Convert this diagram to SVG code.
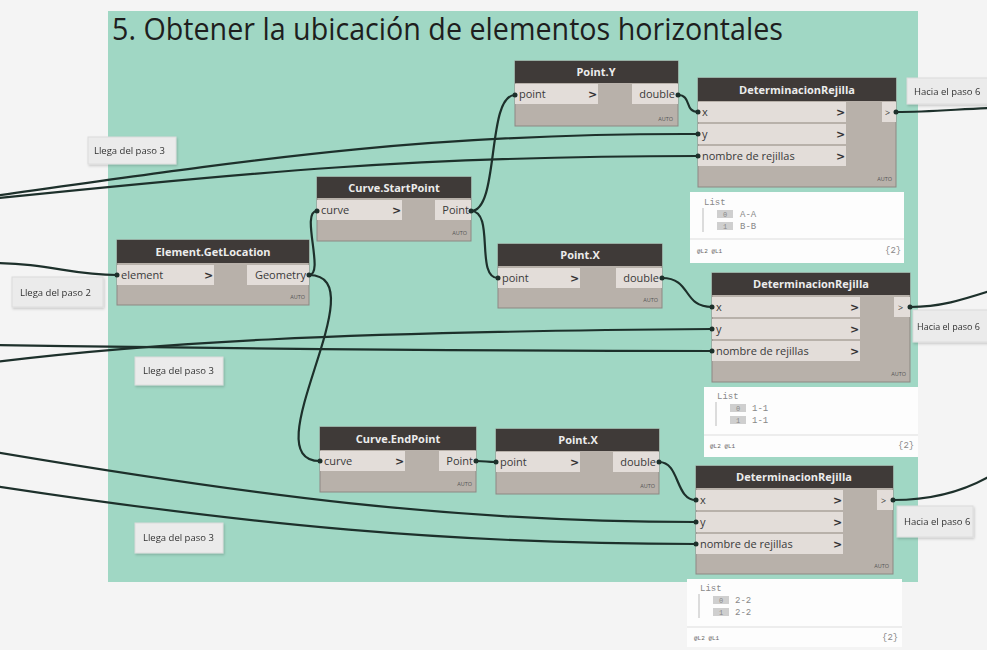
<svg xmlns="http://www.w3.org/2000/svg" width="987" height="650" viewBox="0 0 987 650">
<defs>
<style>
.bg{fill:#f4f4f4}
.grp{fill:#a0d7c4}
.title{font-family:"Open Sans","Noto Sans",sans-serif;font-size:31px;fill:#1e1e1e}
.body{fill:#b8b1aa;stroke:#8d8883;stroke-width:1}
.hdr{fill:#3f3a38}
.htxt{font-family:"Open Sans","Noto Sans",sans-serif;font-size:11px;font-weight:bold;fill:#ececec;text-anchor:middle}
.row{fill:#e3ddd9}
.ptxt{font-family:"Open Sans","Noto Sans",sans-serif;font-size:11px;fill:#3a3a3a}
.pend{text-anchor:end}
.chev{font-family:"DejaVu Sans",sans-serif;font-size:11px;font-weight:bold;fill:#333}
.auto{font-family:"Open Sans",sans-serif;font-size:5.5px;fill:#555;text-anchor:end}
.note{fill:#ebebeb;stroke:#dcdcdc;stroke-width:1}
.ntxt{font-family:"Open Sans","Noto Sans",sans-serif;font-size:9.5px;fill:#333}
.watch{fill:#fdfdfd}
.wsep{stroke:#dddddd;stroke-width:1}
.wtxt{font-family:"Liberation Mono","DejaVu Sans Mono",monospace;font-size:9px;fill:#888}
.itxt{font-family:"Liberation Mono",monospace;font-size:7px;fill:#888;text-anchor:middle}
.wfoot{font-family:"Liberation Mono",monospace;font-size:6px;fill:#666}
.idx{fill:#cfcfcf}
.wire{fill:none;stroke:#1d302b;stroke-width:2.2}
.dot{fill:#1d302b}
</style>
<filter id="sh" x="-10%" y="-10%" width="130%" height="140%">
<feDropShadow dx="1" dy="1.5" stdDeviation="1.2" flood-color="#000" flood-opacity="0.18"/>
</filter>
</defs>
<rect class="bg" x="0" y="0" width="987" height="650"/>
<rect class="grp" x="108" y="11" width="810" height="571"/>
<text class="title" x="112" y="40" textLength="671" lengthAdjust="spacingAndGlyphs">5. Obtener la ubicación de elementos horizontales</text>

<g id="notes">
<g id="note-llega3a" filter="url(#sh)"><rect class="note" x="88" y="137" width="88" height="27"/><text class="ntxt" x="94" y="154">Llega del paso 3</text></g>
<g id="note-llega2" filter="url(#sh)"><rect class="note" x="12" y="277" width="91" height="30"/><text class="ntxt" x="20" y="296">Llega del paso 2</text></g>
<g id="note-llega3b" filter="url(#sh)"><rect class="note" x="135" y="357" width="88" height="28"/><text class="ntxt" x="143" y="374">Llega del paso 3</text></g>
<g id="note-llega3c" filter="url(#sh)"><rect class="note" x="135" y="523" width="88" height="30"/><text class="ntxt" x="143" y="541">Llega del paso 3</text></g>
<g id="note-hacia6a" filter="url(#sh)"><rect class="note" x="907" y="78" width="85" height="26"/><text class="ntxt" x="914" y="95">Hacia el paso 6</text></g>
<g id="note-hacia6b" filter="url(#sh)"><rect class="note" x="913" y="310" width="80" height="32"/><text class="ntxt" x="917" y="330" style="font-size:9px">Hacia el paso 6</text></g>
<g id="note-hacia6c" filter="url(#sh)"><rect class="note" x="897" y="506" width="76" height="31"/><text class="ntxt" x="904" y="525">Hacia el paso 6</text></g>
</g>

<g id="connectors">
<path class="wire" d="M-20,198 C250,160 420,133 698,134"/>
<path class="wire" d="M-20,200 C250,172 420,156 698,156"/>
<path class="wire" d="M-10,263 C50,263 70,275 117,275"/>
<path class="wire" d="M-5,362 C150,343 330,332 712,329"/>
<path class="wire" d="M-5,345 C200,348 420,351 712,351"/>
<path class="wire" d="M-5,452 C250,495 450,522 696,522"/>
<path class="wire" d="M-5,486 C250,525 450,544 696,544"/>
<path class="wire" d="M309,275 C325,275 300,211 317,211"/>
<path class="wire" d="M309,275 C380,275 250,461 320,461"/>
<path class="wire" d="M471,211 C500,211 486,95 515,95"/>
<path class="wire" d="M471,211 C495,211 475,278 498,278"/>
<path class="wire" d="M678,95 C692,95 684,112 698,112"/>
<path class="wire" d="M662,278 C692,278 682,307 712,307"/>
<path class="wire" d="M476,461 C486,461 486,462 496,462"/>
<path class="wire" d="M659,462 C680,462 675,500 696,500"/>
<path class="wire" d="M896,112 C930,112 960,109 990,108"/>
<path class="wire" d="M910,307 C940,307 962,300 990,291"/>
<path class="wire" d="M893,500 C930,500 962,492 990,476"/>
</g>

<g id="node-pointY">
<rect class="body" x="515" y="61" width="163" height="65"/>
<rect class="hdr" x="515" y="61" width="163" height="22"/>
<text class="htxt" x="596" y="76">Point.Y</text>
<rect class="row" x="515" y="84" width="83" height="20"/>
<text class="ptxt" x="519" y="98">point</text>
<text class="chev" x="588" y="98">&gt;</text>
<rect class="row" x="632" y="84" width="46" height="20"/>
<text class="ptxt pend" x="675" y="98">double</text>
<text class="auto" x="673" y="121">AUTO</text>
<circle class="dot" cx="515" cy="95" r="2.5"/><circle class="dot" cx="678" cy="95" r="2.5"/>
</g>

<g id="node-determ1">
<rect class="body" x="698" y="78" width="198" height="109"/>
<rect class="hdr" x="698" y="78" width="198" height="23"/>
<text class="htxt" x="797" y="94">DeterminacionRejilla</text>
<rect class="row" x="698" y="102" width="148" height="20"/>
<rect class="row" x="698" y="124" width="148" height="20"/>
<rect class="row" x="698" y="146" width="148" height="20"/>
<text class="ptxt" x="702" y="116">x</text>
<text class="ptxt" x="702" y="138">y</text>
<text class="ptxt" x="702" y="160">nombre de rejillas</text>
<text class="chev" x="836" y="116">&gt;</text><text class="chev" x="836" y="138">&gt;</text><text class="chev" x="836" y="160">&gt;</text>
<rect class="row" x="882" y="102" width="14" height="20"/>
<text class="ptxt" x="885" y="116" style="font-size:9px">&gt;</text>
<text class="auto" x="892" y="181">AUTO</text>
<circle class="dot" cx="698" cy="112" r="2.5"/><circle class="dot" cx="698" cy="134" r="2.5"/><circle class="dot" cx="698" cy="156" r="2.5"/><circle class="dot" cx="896" cy="112" r="2.5"/>
</g>

<g id="watch1">
<rect class="watch" x="690" y="192" width="214" height="71"/>
<text class="wtxt" x="704" y="205">List</text>
<line x1="703" y1="208" x2="703" y2="232" stroke="#aaa" stroke-width="0.8"/>
<rect class="idx" x="717" y="210" width="16" height="8"/><text class="itxt" x="725" y="217">0</text><text class="wtxt" x="740" y="217">A-A</text>
<rect class="idx" x="717" y="222" width="16" height="8"/><text class="itxt" x="725" y="229">1</text><text class="wtxt" x="740" y="229">B-B</text>
<line class="wsep" x1="690" y1="239" x2="904" y2="239"/>
<text class="wfoot" x="697" y="253">@L2 @L1</text>
<text class="wtxt" x="885" y="253">{2}</text>
</g>

<g id="node-startpoint">
<rect class="body" x="317" y="177" width="154" height="64"/>
<rect class="hdr" x="317" y="177" width="154" height="21"/>
<text class="htxt" x="394" y="192">Curve.StartPoint</text>
<rect class="row" x="317" y="200" width="85" height="20"/>
<text class="ptxt" x="321" y="214">curve</text>
<text class="chev" x="392" y="214">&gt;</text>
<rect class="row" x="435" y="200" width="36" height="20"/>
<text class="ptxt pend" x="469" y="214">Point</text>
<text class="auto" x="467" y="235">AUTO</text>
<circle class="dot" cx="317" cy="211" r="2.5"/><circle class="dot" cx="471" cy="211" r="2.5"/>
</g>

<g id="node-getlocation">
<rect class="body" x="117" y="240" width="192" height="65"/>
<rect class="hdr" x="117" y="240" width="192" height="23"/>
<text class="htxt" x="213" y="256">Element.GetLocation</text>
<rect class="row" x="117" y="265" width="97" height="20"/>
<text class="ptxt" x="121" y="279">element</text>
<text class="chev" x="204" y="279">&gt;</text>
<rect class="row" x="247" y="265" width="62" height="20"/>
<text class="ptxt pend" x="306" y="279">Geometry</text>
<text class="auto" x="305" y="299">AUTO</text>
<circle class="dot" cx="117" cy="275" r="2.5"/><circle class="dot" cx="309" cy="275" r="2.5"/>
</g>

<g id="node-pointX1">
<rect class="body" x="498" y="244" width="164" height="64"/>
<rect class="hdr" x="498" y="244" width="164" height="22"/>
<text class="htxt" x="580" y="259">Point.X</text>
<rect class="row" x="498" y="268" width="82" height="20"/>
<text class="ptxt" x="502" y="282">point</text>
<text class="chev" x="570" y="282">&gt;</text>
<rect class="row" x="616" y="268" width="46" height="20"/>
<text class="ptxt pend" x="659" y="282">double</text>
<text class="auto" x="658" y="302">AUTO</text>
<circle class="dot" cx="498" cy="278" r="2.5"/><circle class="dot" cx="662" cy="278" r="2.5"/>
</g>

<g id="node-determ2">
<rect class="body" x="712" y="273" width="198" height="109"/>
<rect class="hdr" x="712" y="273" width="198" height="22"/>
<text class="htxt" x="811" y="288">DeterminacionRejilla</text>
<rect class="row" x="712" y="297" width="148" height="20"/>
<rect class="row" x="712" y="319" width="148" height="20"/>
<rect class="row" x="712" y="341" width="148" height="20"/>
<text class="ptxt" x="716" y="311">x</text>
<text class="ptxt" x="716" y="333">y</text>
<text class="ptxt" x="716" y="355">nombre de rejillas</text>
<text class="chev" x="850" y="311">&gt;</text><text class="chev" x="850" y="333">&gt;</text><text class="chev" x="850" y="355">&gt;</text>
<rect class="row" x="894" y="297" width="16" height="20"/>
<text class="ptxt" x="898" y="311" style="font-size:9px">&gt;</text>
<text class="auto" x="906" y="376">AUTO</text>
<circle class="dot" cx="712" cy="307" r="2.5"/><circle class="dot" cx="712" cy="329" r="2.5"/><circle class="dot" cx="712" cy="351" r="2.5"/><circle class="dot" cx="910" cy="307" r="2.5"/>
</g>

<g id="watch2">
<rect class="watch" x="704" y="387" width="214" height="70"/>
<text class="wtxt" x="717" y="399">List</text>
<line x1="716" y1="402" x2="716" y2="426" stroke="#aaa" stroke-width="0.8"/>
<rect class="idx" x="730" y="404" width="16" height="8"/><text class="itxt" x="738" y="411">0</text><text class="wtxt" x="752" y="411">1-1</text>
<rect class="idx" x="730" y="416" width="16" height="8"/><text class="itxt" x="738" y="423">1</text><text class="wtxt" x="752" y="423">1-1</text>
<line class="wsep" x1="704" y1="435" x2="918" y2="435"/>
<text class="wfoot" x="710" y="448">@L2 @L1</text>
<text class="wtxt" x="898" y="448">{2}</text>
</g>

<g id="node-endpoint">
<rect class="body" x="320" y="427" width="156" height="65"/>
<rect class="hdr" x="320" y="427" width="156" height="23"/>
<text class="htxt" x="398" y="443">Curve.EndPoint</text>
<rect class="row" x="320" y="451" width="85" height="20"/>
<text class="ptxt" x="324" y="465">curve</text>
<text class="chev" x="395" y="465">&gt;</text>
<rect class="row" x="439" y="451" width="37" height="20"/>
<text class="ptxt pend" x="473" y="465">Point</text>
<text class="auto" x="472" y="486">AUTO</text>
<circle class="dot" cx="320" cy="461" r="2.5"/><circle class="dot" cx="476" cy="461" r="2.5"/>
</g>

<g id="node-pointX2">
<rect class="body" x="496" y="429" width="163" height="65"/>
<rect class="hdr" x="496" y="429" width="163" height="22"/>
<text class="htxt" x="578" y="444">Point.X</text>
<rect class="row" x="496" y="452" width="84" height="20"/>
<text class="ptxt" x="500" y="466">point</text>
<text class="chev" x="570" y="466">&gt;</text>
<rect class="row" x="613" y="452" width="46" height="20"/>
<text class="ptxt pend" x="656" y="466">double</text>
<text class="auto" x="655" y="488">AUTO</text>
<circle class="dot" cx="496" cy="462" r="2.5"/><circle class="dot" cx="659" cy="462" r="2.5"/>
</g>

<g id="node-determ3">
<rect class="body" x="696" y="466" width="197" height="108"/>
<rect class="hdr" x="696" y="466" width="197" height="22"/>
<text class="htxt" x="794" y="481">DeterminacionRejilla</text>
<rect class="row" x="696" y="490" width="147" height="20"/>
<rect class="row" x="696" y="512" width="147" height="20"/>
<rect class="row" x="696" y="534" width="147" height="20"/>
<text class="ptxt" x="700" y="504">x</text>
<text class="ptxt" x="700" y="526">y</text>
<text class="ptxt" x="700" y="548">nombre de rejillas</text>
<text class="chev" x="833" y="504">&gt;</text><text class="chev" x="833" y="526">&gt;</text><text class="chev" x="833" y="548">&gt;</text>
<rect class="row" x="877" y="490" width="16" height="20"/>
<text class="ptxt" x="881" y="504" style="font-size:9px">&gt;</text>
<text class="auto" x="889" y="568">AUTO</text>
<circle class="dot" cx="696" cy="500" r="2.5"/><circle class="dot" cx="696" cy="522" r="2.5"/><circle class="dot" cx="696" cy="544" r="2.5"/><circle class="dot" cx="893" cy="500" r="2.5"/>
</g>

<g id="watch3">
<rect class="watch" x="687" y="579" width="215" height="68"/>
<text class="wtxt" x="700" y="591">List</text>
<line x1="699" y1="594" x2="699" y2="618" stroke="#aaa" stroke-width="0.8"/>
<rect class="idx" x="713" y="596" width="16" height="8"/><text class="itxt" x="721" y="603">0</text><text class="wtxt" x="735" y="603">2-2</text>
<rect class="idx" x="713" y="608" width="16" height="8"/><text class="itxt" x="721" y="615">1</text><text class="wtxt" x="735" y="615">2-2</text>
<line class="wsep" x1="687" y1="627" x2="902" y2="627"/>
<text class="wfoot" x="694" y="640">@L2 @L1</text>
<text class="wtxt" x="882" y="640">{2}</text>
</g>
</svg>
